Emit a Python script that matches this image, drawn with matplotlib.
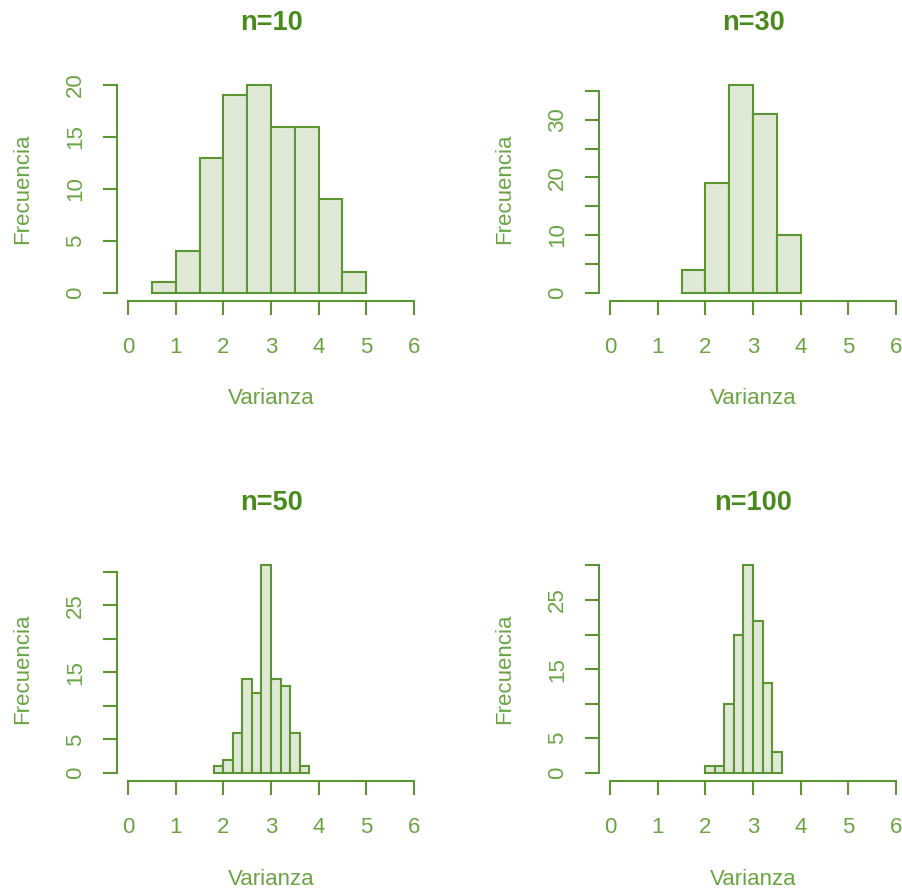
import matplotlib
matplotlib.use("Agg")
import matplotlib.pyplot as plt

plt.rcParams['font.family'] = ['Liberation Sans', 'DejaVu Sans']

# histogram data (bin edges + counts)
titles = ['n=10', 'n=30', 'n=50', 'n=100']

edges10 = [0.5, 1.0, 1.5, 2.0, 2.5, 3.0, 3.5, 4.0, 4.5, 5.0]
counts10 = [1, 4, 13, 19, 20, 16, 16, 9, 2]

edges30 = [1.5, 2.0, 2.5, 3.0, 3.5, 4.0]
counts30 = [4, 19, 36, 31, 10]

edges50 = [1.8, 2.0, 2.2, 2.4, 2.6, 2.8, 3.0, 3.2, 3.4, 3.6, 3.8]
counts50 = [1, 2, 6, 14, 12, 31, 14, 13, 6, 1]

edges100 = [2.0, 2.2, 2.4, 2.6, 2.8, 3.0, 3.2, 3.4, 3.6]
counts100 = [1, 1, 10, 20, 30, 22, 13, 3]

x_ticks = [0, 1, 2, 3, 4, 5, 6]
y_ticks10 = [0, 5, 10, 15, 20]
y_labels10 = ['0', '5', '10', '15', '20']
y_ticks30 = [0, 5, 10, 15, 20, 25, 30, 35]
y_labels30 = ['0', '', '10', '', '20', '', '30', '']
y_ticks50 = [0, 5, 10, 15, 20, 25, 30]
y_labels50 = ['0', '5', '', '15', '', '25', '']

LINE = '#5b9632'
FILL = '#dfe9d6'
TEXT = '#6aa443'
TITLE = '#4a8a1c'

fig = plt.figure(figsize=(9.02, 8.93), dpi=100)

W, H = 902, 893
def add_axes(left, top):
    # left/top in pixels, size of an R plot region
    w, h = 308.8, 224.2
    return fig.add_axes([left / W, 1 - (top + h) / H, w / W, h / H])

axes = [add_axes(116.6, 76.8), add_axes(598.6, 76.8),
        add_axes(116.6, 557.0), add_axes(598.6, 557.0)]

panels = [
    (edges10, counts10, y_ticks10, y_labels10),
    (edges30, counts30, y_ticks30, y_labels30),
    (edges50, counts50, y_ticks50, y_labels50),
    (edges100, counts100, y_ticks50, y_labels50),
]

for ax, title, (edges, counts, yt, yl) in zip(axes, titles, panels):
    lefts = edges[:-1]
    widths = [b - a for a, b in zip(edges[:-1], edges[1:])]
    ax.bar(lefts, counts, width=widths, align='edge', color=FILL,
           edgecolor=LINE, linewidth=1.5)

    top = max(counts)
    ax.set_xlim(-0.24, 6.24)
    ax.set_ylim(-0.04 * top, 1.04 * top)

    for s in ['top', 'right']:
        ax.spines[s].set_visible(False)
    for s in ['left', 'bottom']:
        ax.spines[s].set_color(LINE)
        ax.spines[s].set_linewidth(1.5)
    ax.spines['bottom'].set_bounds(0, 6)
    ax.spines['left'].set_bounds(yt[0], yt[-1])

    ax.set_xticks(x_ticks)
    ax.set_xticklabels([str(t) for t in x_ticks])
    ax.set_yticks(yt)
    ax.set_yticklabels(yl, rotation=90, va='center')
    ax.tick_params(axis='both', colors=LINE, labelcolor=TEXT, length=10,
                   width=1.5, labelsize=16)
    ax.tick_params(axis='x', pad=16)
    ax.tick_params(axis='y', pad=12)

    ax.set_xlabel('Varianza', color=TEXT, fontsize=16)
    ax.xaxis.label.set_va('center')
    ax.xaxis.set_label_coords(0.5, -0.437)
    ax.set_ylabel('Frecuencia', color=TEXT, fontsize=16)
    ax.yaxis.label.set_va('center')
    ax.yaxis.set_label_coords(-0.303, 0.5)

    ax.text(0.5, 1.241, title, transform=ax.transAxes, ha='center',
            va='center', fontsize=19.5, fontweight='bold', color=TITLE)

fig.savefig('out.png', dpi=100)
